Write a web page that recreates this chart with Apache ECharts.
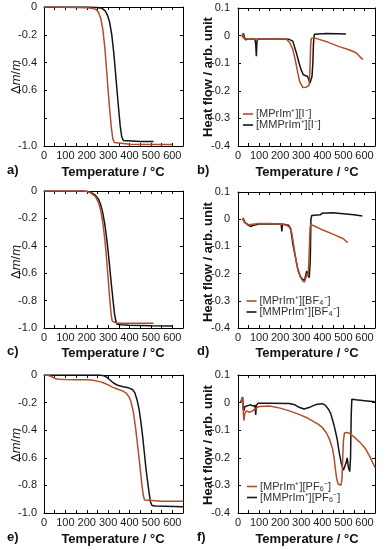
<!DOCTYPE html>
<html><head><meta charset="utf-8">
<script src="https://cdn.jsdelivr.net/npm/echarts@6/dist/echarts.min.js"></script>
<style>html,body{margin:0;padding:0;background:#fff}#c{width:385px;height:550px}</style>
</head><body><div id="c"></div><script>
// ---- data: [temperature °C, value] ----
const tgaI_MPrIm = [[0,0],[50,0],[100,-0.002],[150,-0.003],[200,-0.005],[230,-0.01],[245,-0.02],[255,-0.04],[265,-0.08],[275,-0.16],[285,-0.3],[295,-0.5],[305,-0.7],[315,-0.87],[322,-0.95],[329,-0.975],[338,-0.985],[400,-0.987],[500,-0.99],[600,-0.99]];
const tgaI_MMPrIm = [[0,0],[100,0],[200,0],[250,-0.003],[272,-0.01],[287,-0.03],[297,-0.06],[307,-0.11],[317,-0.2],[327,-0.34],[337,-0.52],[347,-0.7],[356,-0.85],[363,-0.93],[371,-0.96],[380,-0.965],[450,-0.967],[512,-0.968]];
const dscI_MPrIm = [[18,-0.005],[22,0.007],[26,-0.01],[32,-0.015],[50,-0.013],[100,-0.012],[200,-0.012],[230,-0.013],[245,-0.025],[260,-0.05],[272,-0.09],[284,-0.136],[292,-0.165],[300,-0.178],[308,-0.188],[315,-0.19],[324,-0.187],[331,-0.184],[337,-0.18],[341,-0.13],[345,-0.03],[348,-0.01],[370,-0.01],[420,-0.022],[480,-0.04],[530,-0.052],[560,-0.062],[592,-0.087]];
const dscI_MMPrIm = [[22,0],[26,0.008],[30,-0.005],[35,-0.015],[45,-0.013],[80,-0.012],[84,-0.03],[87,-0.075],[90,-0.02],[95,-0.012],[150,-0.012],[200,-0.012],[240,-0.013],[260,-0.02],[276,-0.06],[290,-0.1],[300,-0.125],[310,-0.142],[318,-0.148],[330,-0.148],[337,-0.15],[342,-0.172],[346,-0.16],[351,-0.148],[355,-0.1],[358,-0.03],[362,0.005],[370,0.008],[420,0.008],[470,0.007],[512,0.006]];
const tgaBF4_MPrIm = [[0,0],[100,0],[180,0],[200,-0.004],[220,-0.015],[240,-0.04],[255,-0.085],[265,-0.14],[275,-0.23],[285,-0.36],[293,-0.5],[301,-0.66],[308,-0.8],[314,-0.9],[319,-0.95],[325,-0.963],[340,-0.965],[512,-0.965]];
const tgaBF4_MMPrIm = [[0,0],[100,0],[190,0],[200,-0.002],[220,-0.01],[240,-0.03],[255,-0.06],[265,-0.1],[275,-0.16],[285,-0.25],[295,-0.37],[305,-0.52],[315,-0.68],[323,-0.8],[330,-0.9],[336,-0.95],[342,-0.972],[360,-0.977],[400,-0.98],[500,-0.983],[600,-0.985]];
const dscBF4_MPrIm = [[20,-0.005],[25,0.005],[30,-0.012],[50,-0.02],[100,-0.016],[150,-0.016],[200,-0.018],[230,-0.022],[245,-0.03],[255,-0.05],[265,-0.1],[275,-0.15],[285,-0.19],[295,-0.21],[305,-0.225],[315,-0.232],[322,-0.215],[328,-0.2],[333,-0.21],[338,-0.12],[342,-0.03],[345,-0.02],[360,-0.024],[400,-0.039],[450,-0.055],[500,-0.072],[520,-0.086]];
const dscBF4_MMPrIm = [[25,0],[28,0.006],[32,-0.01],[45,-0.02],[60,-0.027],[75,-0.022],[100,-0.018],[150,-0.017],[205,-0.018],[208,-0.045],[211,-0.018],[240,-0.022],[250,-0.035],[260,-0.09],[270,-0.13],[283,-0.18],[295,-0.21],[305,-0.22],[315,-0.225],[320,-0.21],[326,-0.19],[332,-0.205],[338,-0.215],[343,-0.15],[346,0.0],[350,0.014],[390,0.016],[400,0.022],[450,0.024],[500,0.02],[550,0.016],[590,0.012]];
const tgaPF6_MPrIm = [[0,0],[20,-0.003],[40,-0.015],[55,-0.027],[70,-0.031],[100,-0.033],[150,-0.034],[200,-0.035],[230,-0.038],[260,-0.048],[280,-0.058],[300,-0.072],[320,-0.088],[345,-0.103],[367,-0.115],[385,-0.132],[398,-0.16],[408,-0.2],[418,-0.27],[428,-0.38],[437,-0.5],[445,-0.61],[452,-0.71],[458,-0.8],[464,-0.87],[470,-0.905],[478,-0.915],[550,-0.915],[650,-0.915]];
const tgaPF6_MMPrIm = [[0,0],[100,0],[200,0],[260,0],[280,-0.005],[295,-0.018],[310,-0.038],[325,-0.058],[345,-0.075],[370,-0.085],[395,-0.093],[414,-0.105],[425,-0.13],[435,-0.18],[445,-0.25],[453,-0.34],[461,-0.44],[469,-0.56],[477,-0.68],[485,-0.78],[492,-0.86],[498,-0.92],[505,-0.945],[520,-0.95],[650,-0.955]];
const dscPF6_MPrIm = [[15,0],[20,0.02],[24,-0.02],[28,-0.065],[32,-0.04],[40,-0.03],[55,-0.035],[70,-0.03],[85,-0.02],[100,-0.014],[150,-0.012],[200,-0.02],[243,-0.03],[280,-0.04],[306,-0.048],[330,-0.056],[353,-0.066],[380,-0.078],[400,-0.09],[420,-0.11],[435,-0.135],[448,-0.165],[456,-0.2],[462,-0.24],[468,-0.275],[475,-0.295],[482,-0.302],[488,-0.3],[493,-0.28],[497,-0.2],[500,-0.14],[505,-0.11],[515,-0.108],[530,-0.112],[556,-0.128],[580,-0.145],[603,-0.165],[625,-0.195],[650,-0.235]];
const dscPF6_MMPrIm = [[12,0],[18,0.005],[22,0.02],[25,-0.02],[28,-0.03],[32,-0.015],[40,-0.008],[50,-0.01],[60,-0.008],[70,-0.012],[80,-0.01],[84,-0.045],[87,-0.01],[95,-0.002],[150,-0.002],[243,-0.003],[270,-0.008],[290,-0.017],[313,-0.023],[337,-0.018],[360,-0.01],[376,-0.006],[400,-0.004],[415,-0.01],[430,-0.025],[440,-0.04],[455,-0.08],[470,-0.13],[480,-0.18],[490,-0.22],[500,-0.245],[506,-0.25],[512,-0.22],[518,-0.2],[524,-0.235],[530,-0.25],[534,-0.2],[537,-0.05],[540,0.012],[560,0.01],[600,0.007],[650,0.003]];

const xTicks = [0,100,200,300,400,500,600];
const tgaTicks = [0,-0.2,-0.4,-0.6,-0.8,-1.0];
const dscTicks = [0.1,0,-0.1,-0.2,-0.3,-0.4];
const legendNames = [
  ['[MPrIm⁺][I⁻]','[MMPrIm⁺][I⁻]'],
  ['[MPrIm⁺][BF₄⁻]','[MMPrIm⁺][BF₄⁻]'],
  ['[MPrIm⁺][PF₆⁻]','[MMPrIm⁺][PF₆⁻]']
];
const panelLetters = ['a)','b)','c)','d)','e)','f)'];

// ---- layout ----
const RED = '#b24d2b', BLK = '#141414';
const FONT = "'Liberation Sans', Arial, sans-serif";
const grids = [
  {left:44, top:7, width:139, height:139},
  {left:238, top:8, width:137, height:138},
  {left:44, top:191, width:139, height:137},
  {left:238, top:192, width:137, height:136},
  {left:44, top:375, width:139, height:138},
  {left:238, top:375, width:137, height:138}
];
const panels = [
  {red: tgaI_MPrIm, blk: tgaI_MMPrIm, type:'tga', hide:[-0.8]},
  {red: dscI_MPrIm, blk: dscI_MMPrIm, type:'dsc', leg:0},
  {red: tgaBF4_MPrIm, blk: tgaBF4_MMPrIm, type:'tga', hide:[]},
  {red: dscBF4_MPrIm, blk: dscBF4_MMPrIm, type:'dsc', leg:1},
  {red: tgaPF6_MPrIm, blk: tgaPF6_MMPrIm, type:'tga', hide:[]},
  {red: dscPF6_MPrIm, blk: dscPF6_MMPrIm, type:'dsc', leg:2}
];
const legendPos = [{left:243, top:108.5}, {left:246.5, top:295.5}, {left:247, top:481}];

const axLine = {show:true, onZero:false, lineStyle:{color:'#000', width:1}};
const tick = {show:true, inside:true, length:3, lineStyle:{color:'#000', width:1}};
const lab = {color:'#1a1a1a', fontSize:11, fontFamily:FONT};

const xAxis = [], yAxis = [], series = [], legend = [];
panels.forEach((p, i) => {
  xAxis.push({type:'value', gridIndex:i, position:'bottom', min:0, max:650, interval:50,
    axisLine:axLine, axisTick:tick, splitLine:{show:false},
    axisLabel:Object.assign({margin:4, formatter: v => (xTicks.indexOf(v) >= 0 ? String(v) : '')}, lab)});
  xAxis.push({type:'value', gridIndex:i, position:'top', min:0, max:650, interval:50,
    axisLine:axLine, axisTick:tick, splitLine:{show:false}, axisLabel:{show:false}});
  const isT = p.type === 'tga';
  const ymin = isT ? -1 : -0.4, ymax = isT ? 0 : 0.1, yint = isT ? 0.2 : 0.1;
  const tl = isT ? tgaTicks : dscTicks;
  yAxis.push({type:'value', gridIndex:i, position:'left', min:ymin, max:ymax, interval:yint,
    axisLine:axLine, axisTick:tick, splitLine:{show:false},
    axisLabel:Object.assign({margin: isT ? 7 : 8, formatter: v => {
      const r = Math.round(v*10)/10;
      if (p.hide && p.hide.some(h => Math.abs(h - r) < 1e-6)) return '';
      const t = tl.find(x => Math.abs(x - r) < 1e-6);
      if (t === undefined) return '';
      return t === 0 ? '0' : t.toFixed(1);
    }}, lab)});
  yAxis.push({type:'value', gridIndex:i, position:'right', min:ymin, max:ymax, interval:yint,
    axisLine:axLine, axisTick:tick, splitLine:{show:false}, axisLabel:{show:false}});
  const names = p.leg !== undefined ? legendNames[p.leg] : ['red'+i, 'blk'+i];
  series.push({type:'line', name:names[1], xAxisIndex:2*i, yAxisIndex:2*i, data:p.blk,
    showSymbol:false, symbol:'none', lineStyle:{color:BLK, width:1.5}, itemStyle:{color:BLK}, animation:false});
  series.push({type:'line', name:names[0], xAxisIndex:2*i, yAxisIndex:2*i, data:p.red,
    showSymbol:false, symbol:'none', lineStyle:{color:RED, width:1.5}, itemStyle:{color:RED}, animation:false});
  if (p.leg !== undefined) {
    legend.push(Object.assign({data: legendNames[p.leg].map(n => ({name:n, icon:'rect'})),
      orient:'vertical', padding:0, itemGap:0, itemWidth:10, itemHeight:1.6, selectedMode:false,
      textStyle:{fontSize:11, color:'#333', fontFamily:FONT, padding:[0,0,0,-2]}}, legendPos[p.leg]));
  }
});

// ---- text graphics ----
const graphic = [];
const rowTitleY = [172, 353, 539];
const rowMid = [77, 262, 445];
for (let r = 0; r < 3; r++) {
  graphic.push({type:'text', left:7, top:rowTitleY[r]-8, style:{text:panelLetters[2*r], font:"bold 13px "+FONT, fill:'#111'}});
  graphic.push({type:'text', left:197, top:rowTitleY[r]-8, style:{text:panelLetters[2*r+1], font:"bold 13px "+FONT, fill:'#111'}});
  graphic.push({type:'text', x:113, y:rowTitleY[r], style:{text:'Temperature / °C', font:"bold 13px "+FONT, fill:'#111', align:'center', verticalAlign:'middle'}});
  graphic.push({type:'text', x:307, y:rowTitleY[r], style:{text:'Temperature / °C', font:"bold 13px "+FONT, fill:'#111', align:'center', verticalAlign:'middle'}});
  graphic.push({type:'text', x:16, y:rowMid[r], rotation:Math.PI/2,
    style:{text:'{d|Δ}{i|m}{d|/}{i|m}', align:'center', verticalAlign:'middle',
      rich:{d:{fontSize:13, fontFamily:FONT, fill:'#111', color:'#111'}, i:{fontSize:13, fontFamily:FONT, fontStyle:'italic', fill:'#111', color:'#111'}}}});
  graphic.push({type:'text', x:208, y:rowMid[r], rotation:Math.PI/2,
    style:{text:'Heat flow / arb. unit', font:"bold 13px "+FONT, fill:'#111', align:'center', verticalAlign:'middle'}});
}

const chart = echarts.init(document.getElementById('c'), null, {renderer:'canvas'});
chart.setOption({animation:false, backgroundColor:'#fff', grid:grids, xAxis, yAxis, series, legend, graphic});
</script></body></html>
